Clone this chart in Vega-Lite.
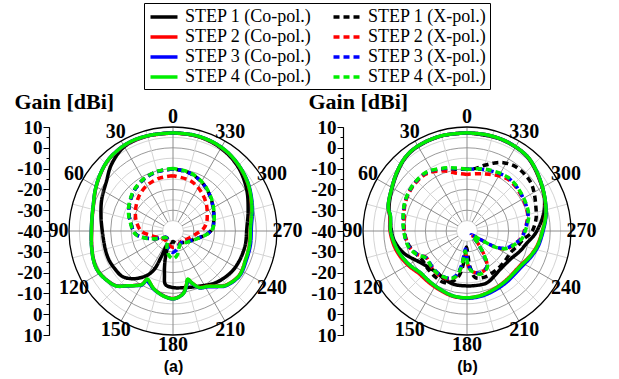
{
"$schema": "https://vega.github.io/schema/vega-lite/v6.json",
"padding": {"left": 14, "top": 2, "right": 5, "bottom": 5},
"bounds": "flush",
"spacing": 86,
"config": {"view": {"stroke": null}},
"datasets": {
"rings": [{"r":5},{"r":10},{"r":15},{"r":20},{"r":25},{"r":30},{"r":35},{"r":40},{"r":45}],
"spokes": [{"a":0},{"a":15},{"a":30},{"a":45},{"a":60},{"a":75},{"a":90},{"a":105},{"a":120},{"a":135},{"a":150},{"a":165},{"a":180},{"a":195},{"a":210},{"a":225},{"a":240},{"a":255},{"a":270},{"a":285},{"a":300},{"a":315},{"a":330},{"a":345}],
"curves": [
{"p":"a","s":"1C","a":0,"g":7.3},{"p":"a","s":"1C","a":15,"g":7.3},{"p":"a","s":"1C","a":30,"g":6.8},{"p":"a","s":"1C","a":43,"g":3.5},{"p":"a","s":"1C","a":53,"g":0},{"p":"a","s":"1C","a":66,"g":-2.5},{"p":"a","s":"1C","a":78,"g":-4.6},{"p":"a","s":"1C","a":90,"g":-6},{"p":"a","s":"1C","a":105,"g":-6.3},{"p":"a","s":"1C","a":114,"g":-6.2},{"p":"a","s":"1C","a":122,"g":-6.6},{"p":"a","s":"1C","a":132,"g":-7.3},{"p":"a","s":"1C","a":141,"g":-10.5},{"p":"a","s":"1C","a":150,"g":-15.5},{"p":"a","s":"1C","a":154,"g":-19.5},{"p":"a","s":"1C","a":155.5,"g":-26},{"p":"a","s":"1C","a":157,"g":-32},{"p":"a","s":"1C","a":161,"g":-31},{"p":"a","s":"1C","a":165,"g":-25},{"p":"a","s":"1C","a":169,"g":-18.5},{"p":"a","s":"1C","a":172,"g":-14},{"p":"a","s":"1C","a":180,"g":-12.8},{"p":"a","s":"1C","a":192,"g":-12.2},{"p":"a","s":"1C","a":205,"g":-10.7},{"p":"a","s":"1C","a":220,"g":-7.7},{"p":"a","s":"1C","a":235,"g":-5.7},{"p":"a","s":"1C","a":247,"g":-5},{"p":"a","s":"1C","a":260,"g":-4.6},{"p":"a","s":"1C","a":270,"g":-4.6},{"p":"a","s":"1C","a":285,"g":-2.6},{"p":"a","s":"1C","a":300,"g":0.8},{"p":"a","s":"1C","a":315,"g":4},{"p":"a","s":"1C","a":330,"g":6},{"p":"a","s":"1C","a":345,"g":7},{"p":"a","s":"1C","a":360,"g":7.3},
{"p":"a","s":"2C","a":0,"g":7.1},{"p":"a","s":"2C","a":15,"g":7.3},{"p":"a","s":"2C","a":28,"g":7.4},{"p":"a","s":"2C","a":42,"g":6.2},{"p":"a","s":"2C","a":52,"g":4.3},{"p":"a","s":"2C","a":62,"g":2.2},{"p":"a","s":"2C","a":72,"g":0.2},{"p":"a","s":"2C","a":80,"g":-0.6},{"p":"a","s":"2C","a":90,"g":-0.9},{"p":"a","s":"2C","a":100,"g":-0.3},{"p":"a","s":"2C","a":110,"g":0.6},{"p":"a","s":"2C","a":117,"g":0.9},{"p":"a","s":"2C","a":125,"g":-0.1},{"p":"a","s":"2C","a":134,"g":-2.1},{"p":"a","s":"2C","a":140,"g":-5.6},{"p":"a","s":"2C","a":146,"g":-8.5},{"p":"a","s":"2C","a":150,"g":-10.5},{"p":"a","s":"2C","a":152,"g":-13.6},{"p":"a","s":"2C","a":156,"g":-12.7},{"p":"a","s":"2C","a":161,"g":-10.9},{"p":"a","s":"2C","a":167,"g":-9.5},{"p":"a","s":"2C","a":173,"g":-8.3},{"p":"a","s":"2C","a":180,"g":-7.5},{"p":"a","s":"2C","a":186,"g":-8.5},{"p":"a","s":"2C","a":190,"g":-10},{"p":"a","s":"2C","a":194,"g":-13.4},{"p":"a","s":"2C","a":197,"g":-15.6},{"p":"a","s":"2C","a":200,"g":-13.4},{"p":"a","s":"2C","a":205,"g":-10.1},{"p":"a","s":"2C","a":212,"g":-8.7},{"p":"a","s":"2C","a":219,"g":-5.9},{"p":"a","s":"2C","a":224,"g":-3.7},{"p":"a","s":"2C","a":236,"g":-1.7},{"p":"a","s":"2C","a":249,"g":-2.5},{"p":"a","s":"2C","a":260,"g":-2.7},{"p":"a","s":"2C","a":274,"g":-2.6},{"p":"a","s":"2C","a":284,"g":-1},{"p":"a","s":"2C","a":292,"g":0.5},{"p":"a","s":"2C","a":303,"g":2.7},{"p":"a","s":"2C","a":315,"g":4.6},{"p":"a","s":"2C","a":326,"g":6},{"p":"a","s":"2C","a":337,"g":6.8},{"p":"a","s":"2C","a":348,"g":7.1},{"p":"a","s":"2C","a":360,"g":7.1},
{"p":"a","s":"3C","a":0,"g":7.2},{"p":"a","s":"3C","a":15,"g":7.4},{"p":"a","s":"3C","a":28,"g":7.5},{"p":"a","s":"3C","a":42,"g":6.3},{"p":"a","s":"3C","a":52,"g":4.4},{"p":"a","s":"3C","a":62,"g":2.3},{"p":"a","s":"3C","a":72,"g":0.3},{"p":"a","s":"3C","a":80,"g":-0.5},{"p":"a","s":"3C","a":90,"g":-0.8},{"p":"a","s":"3C","a":100,"g":-0.2},{"p":"a","s":"3C","a":110,"g":0.7},{"p":"a","s":"3C","a":117,"g":1},{"p":"a","s":"3C","a":125,"g":0},{"p":"a","s":"3C","a":134,"g":-2},{"p":"a","s":"3C","a":140,"g":-5.5},{"p":"a","s":"3C","a":146,"g":-8.4},{"p":"a","s":"3C","a":150,"g":-10},{"p":"a","s":"3C","a":152,"g":-12.8},{"p":"a","s":"3C","a":156,"g":-12.3},{"p":"a","s":"3C","a":161,"g":-10.7},{"p":"a","s":"3C","a":167,"g":-9.4},{"p":"a","s":"3C","a":173,"g":-8.2},{"p":"a","s":"3C","a":180,"g":-7.4},{"p":"a","s":"3C","a":186,"g":-8.4},{"p":"a","s":"3C","a":190,"g":-9.9},{"p":"a","s":"3C","a":194,"g":-12.9},{"p":"a","s":"3C","a":197,"g":-15.3},{"p":"a","s":"3C","a":200,"g":-13.2},{"p":"a","s":"3C","a":205,"g":-9.8},{"p":"a","s":"3C","a":212,"g":-8.4},{"p":"a","s":"3C","a":219,"g":-5.6},{"p":"a","s":"3C","a":224,"g":-3.4},{"p":"a","s":"3C","a":236,"g":-1.4},{"p":"a","s":"3C","a":249,"g":-2.1},{"p":"a","s":"3C","a":260,"g":-2.2},{"p":"a","s":"3C","a":274,"g":-2.2},{"p":"a","s":"3C","a":284,"g":-0.6},{"p":"a","s":"3C","a":292,"g":0.8},{"p":"a","s":"3C","a":303,"g":2.9},{"p":"a","s":"3C","a":315,"g":4.7},{"p":"a","s":"3C","a":326,"g":6.1},{"p":"a","s":"3C","a":337,"g":6.9},{"p":"a","s":"3C","a":348,"g":7.2},{"p":"a","s":"3C","a":360,"g":7.2},
{"p":"a","s":"4C","a":0,"g":7.2},{"p":"a","s":"4C","a":15,"g":7.4},{"p":"a","s":"4C","a":28,"g":7.5},{"p":"a","s":"4C","a":42,"g":6.3},{"p":"a","s":"4C","a":52,"g":4.4},{"p":"a","s":"4C","a":62,"g":2.3},{"p":"a","s":"4C","a":72,"g":0.3},{"p":"a","s":"4C","a":80,"g":-0.5},{"p":"a","s":"4C","a":90,"g":-0.8},{"p":"a","s":"4C","a":100,"g":-0.2},{"p":"a","s":"4C","a":110,"g":0.7},{"p":"a","s":"4C","a":117,"g":1},{"p":"a","s":"4C","a":125,"g":0},{"p":"a","s":"4C","a":134,"g":-2},{"p":"a","s":"4C","a":140,"g":-5.6},{"p":"a","s":"4C","a":146,"g":-8.4},{"p":"a","s":"4C","a":150,"g":-10.4},{"p":"a","s":"4C","a":152,"g":-13.8},{"p":"a","s":"4C","a":156,"g":-12.8},{"p":"a","s":"4C","a":161,"g":-10.9},{"p":"a","s":"4C","a":167,"g":-9.4},{"p":"a","s":"4C","a":173,"g":-8.2},{"p":"a","s":"4C","a":180,"g":-7.4},{"p":"a","s":"4C","a":186,"g":-8.4},{"p":"a","s":"4C","a":190,"g":-9.9},{"p":"a","s":"4C","a":194,"g":-13.3},{"p":"a","s":"4C","a":197,"g":-15.8},{"p":"a","s":"4C","a":200,"g":-13.4},{"p":"a","s":"4C","a":205,"g":-10},{"p":"a","s":"4C","a":212,"g":-8.6},{"p":"a","s":"4C","a":219,"g":-5.8},{"p":"a","s":"4C","a":224,"g":-3.6},{"p":"a","s":"4C","a":236,"g":-1.6},{"p":"a","s":"4C","a":249,"g":-2.5},{"p":"a","s":"4C","a":260,"g":-2.6},{"p":"a","s":"4C","a":274,"g":-2.6},{"p":"a","s":"4C","a":284,"g":-0.9},{"p":"a","s":"4C","a":292,"g":0.6},{"p":"a","s":"4C","a":303,"g":2.8},{"p":"a","s":"4C","a":315,"g":4.7},{"p":"a","s":"4C","a":326,"g":6.1},{"p":"a","s":"4C","a":337,"g":6.9},{"p":"a","s":"4C","a":348,"g":7.2},{"p":"a","s":"4C","a":360,"g":7.2},
{"p":"a","s":"1X","a":0,"g":-10.2},{"p":"a","s":"1X","a":15,"g":-10.5},{"p":"a","s":"1X","a":30,"g":-11.5},{"p":"a","s":"1X","a":45,"g":-13.2},{"p":"a","s":"1X","a":60,"g":-15.7},{"p":"a","s":"1X","a":70,"g":-17.5},{"p":"a","s":"1X","a":80,"g":-19.5},{"p":"a","s":"1X","a":90,"g":-21},{"p":"a","s":"1X","a":97,"g":-22.8},{"p":"a","s":"1X","a":105,"g":-26.8},{"p":"a","s":"1X","a":112,"g":-30.2},{"p":"a","s":"1X","a":120,"g":-33.2},{"p":"a","s":"1X","a":135,"g":-35.6},{"p":"a","s":"1X","a":150,"g":-35.2},{"p":"a","s":"1X","a":160,"g":-34.6},{"p":"a","s":"1X","a":170,"g":-34.2},{"p":"a","s":"1X","a":180,"g":-35},{"p":"a","s":"1X","a":190,"g":-34.2},{"p":"a","s":"1X","a":200,"g":-33.2},{"p":"a","s":"1X","a":213,"g":-33.2},{"p":"a","s":"1X","a":230,"g":-31.7},{"p":"a","s":"1X","a":245,"g":-29.7},{"p":"a","s":"1X","a":255,"g":-27.2},{"p":"a","s":"1X","a":267,"g":-22.8},{"p":"a","s":"1X","a":275,"g":-20.8},{"p":"a","s":"1X","a":285,"g":-19.7},{"p":"a","s":"1X","a":300,"g":-17.7},{"p":"a","s":"1X","a":315,"g":-15.2},{"p":"a","s":"1X","a":330,"g":-12.7},{"p":"a","s":"1X","a":345,"g":-10.9},{"p":"a","s":"1X","a":360,"g":-10.2},
{"p":"a","s":"2X","a":0,"g":-13.4},{"p":"a","s":"2X","a":15,"g":-13.8},{"p":"a","s":"2X","a":30,"g":-14.8},{"p":"a","s":"2X","a":45,"g":-16.7},{"p":"a","s":"2X","a":60,"g":-19.2},{"p":"a","s":"2X","a":66,"g":-20.2},{"p":"a","s":"2X","a":75,"g":-21.7},{"p":"a","s":"2X","a":90,"g":-24.7},{"p":"a","s":"2X","a":104,"g":-30},{"p":"a","s":"2X","a":120,"g":-33.2},{"p":"a","s":"2X","a":140,"g":-34.2},{"p":"a","s":"2X","a":160,"g":-33.2},{"p":"a","s":"2X","a":178,"g":-32.2},{"p":"a","s":"2X","a":200,"g":-32.7},{"p":"a","s":"2X","a":220,"g":-33.7},{"p":"a","s":"2X","a":240,"g":-32.2},{"p":"a","s":"2X","a":262,"g":-29},{"p":"a","s":"2X","a":275,"g":-25.2},{"p":"a","s":"2X","a":285,"g":-23.2},{"p":"a","s":"2X","a":296,"g":-21.7},{"p":"a","s":"2X","a":310,"g":-19.2},{"p":"a","s":"2X","a":325,"g":-16.7},{"p":"a","s":"2X","a":340,"g":-14.5},{"p":"a","s":"2X","a":360,"g":-13.4},
{"p":"a","s":"3X","a":0,"g":-10.2},{"p":"a","s":"3X","a":15,"g":-10.5},{"p":"a","s":"3X","a":30,"g":-11.5},{"p":"a","s":"3X","a":45,"g":-13.2},{"p":"a","s":"3X","a":60,"g":-15.7},{"p":"a","s":"3X","a":70,"g":-17.5},{"p":"a","s":"3X","a":80,"g":-19.5},{"p":"a","s":"3X","a":90,"g":-21},{"p":"a","s":"3X","a":97,"g":-22.8},{"p":"a","s":"3X","a":105,"g":-26.8},{"p":"a","s":"3X","a":112,"g":-30.2},{"p":"a","s":"3X","a":120,"g":-33.2},{"p":"a","s":"3X","a":135,"g":-35.6},{"p":"a","s":"3X","a":150,"g":-34.5},{"p":"a","s":"3X","a":160,"g":-32.2},{"p":"a","s":"3X","a":170,"g":-30.7},{"p":"a","s":"3X","a":180,"g":-29.7},{"p":"a","s":"3X","a":190,"g":-30.7},{"p":"a","s":"3X","a":200,"g":-32.2},{"p":"a","s":"3X","a":213,"g":-33.2},{"p":"a","s":"3X","a":230,"g":-31.7},{"p":"a","s":"3X","a":245,"g":-29.7},{"p":"a","s":"3X","a":255,"g":-27.2},{"p":"a","s":"3X","a":267,"g":-22.8},{"p":"a","s":"3X","a":275,"g":-20.8},{"p":"a","s":"3X","a":285,"g":-19.7},{"p":"a","s":"3X","a":300,"g":-17.7},{"p":"a","s":"3X","a":315,"g":-15.2},{"p":"a","s":"3X","a":330,"g":-12.7},{"p":"a","s":"3X","a":345,"g":-10.9},{"p":"a","s":"3X","a":360,"g":-10.2},
{"p":"a","s":"4X","a":0,"g":-10},{"p":"a","s":"4X","a":15,"g":-10.3},{"p":"a","s":"4X","a":30,"g":-11.3},{"p":"a","s":"4X","a":45,"g":-13},{"p":"a","s":"4X","a":60,"g":-15.5},{"p":"a","s":"4X","a":70,"g":-17.3},{"p":"a","s":"4X","a":80,"g":-19.3},{"p":"a","s":"4X","a":90,"g":-20.8},{"p":"a","s":"4X","a":97,"g":-22.6},{"p":"a","s":"4X","a":105,"g":-26.6},{"p":"a","s":"4X","a":112,"g":-30},{"p":"a","s":"4X","a":120,"g":-33},{"p":"a","s":"4X","a":135,"g":-35.4},{"p":"a","s":"4X","a":150,"g":-34.5},{"p":"a","s":"4X","a":160,"g":-31.5},{"p":"a","s":"4X","a":170,"g":-28.3},{"p":"a","s":"4X","a":180,"g":-26.7},{"p":"a","s":"4X","a":190,"g":-28.3},{"p":"a","s":"4X","a":200,"g":-31.5},{"p":"a","s":"4X","a":213,"g":-33},{"p":"a","s":"4X","a":230,"g":-31.5},{"p":"a","s":"4X","a":245,"g":-29.5},{"p":"a","s":"4X","a":255,"g":-27},{"p":"a","s":"4X","a":267,"g":-22.6},{"p":"a","s":"4X","a":275,"g":-20.6},{"p":"a","s":"4X","a":285,"g":-19.5},{"p":"a","s":"4X","a":300,"g":-17.5},{"p":"a","s":"4X","a":315,"g":-15},{"p":"a","s":"4X","a":330,"g":-12.5},{"p":"a","s":"4X","a":345,"g":-10.7},{"p":"a","s":"4X","a":360,"g":-10},
{"p":"b","s":"1C","a":0,"g":7.2},{"p":"b","s":"1C","a":15,"g":7.3},{"p":"b","s":"1C","a":30,"g":7},{"p":"b","s":"1C","a":40,"g":6},{"p":"b","s":"1C","a":50,"g":3.7},{"p":"b","s":"1C","a":60,"g":1.5},{"p":"b","s":"1C","a":73,"g":-0.8},{"p":"b","s":"1C","a":82,"g":-2.8},{"p":"b","s":"1C","a":90,"g":-3.7},{"p":"b","s":"1C","a":97,"g":-4.6},{"p":"b","s":"1C","a":109,"g":-7.7},{"p":"b","s":"1C","a":124,"g":-12.9},{"p":"b","s":"1C","a":144,"g":-15.3},{"p":"b","s":"1C","a":156,"g":-14.3},{"p":"b","s":"1C","a":166,"g":-13.6},{"p":"b","s":"1C","a":180,"g":-13.6},{"p":"b","s":"1C","a":192,"g":-13.4},{"p":"b","s":"1C","a":201,"g":-13.3},{"p":"b","s":"1C","a":212,"g":-14.8},{"p":"b","s":"1C","a":221,"g":-15.6},{"p":"b","s":"1C","a":237,"g":-15.1},{"p":"b","s":"1C","a":249,"g":-12.8},{"p":"b","s":"1C","a":259,"g":-10.5},{"p":"b","s":"1C","a":266,"g":-7.8},{"p":"b","s":"1C","a":272,"g":-5.8},{"p":"b","s":"1C","a":281,"g":-2.8},{"p":"b","s":"1C","a":292,"g":0.2},{"p":"b","s":"1C","a":303,"g":2.3},{"p":"b","s":"1C","a":321,"g":5.9},{"p":"b","s":"1C","a":340,"g":7},{"p":"b","s":"1C","a":360,"g":7.2},
{"p":"b","s":"2C","a":0,"g":7.2},{"p":"b","s":"2C","a":15,"g":7.4},{"p":"b","s":"2C","a":30,"g":7.2},{"p":"b","s":"2C","a":40,"g":6.2},{"p":"b","s":"2C","a":50,"g":4},{"p":"b","s":"2C","a":60,"g":1.7},{"p":"b","s":"2C","a":73,"g":-0.4},{"p":"b","s":"2C","a":79,"g":-2.2},{"p":"b","s":"2C","a":90,"g":-3},{"p":"b","s":"2C","a":105,"g":-4.7},{"p":"b","s":"2C","a":120,"g":-7.2},{"p":"b","s":"2C","a":132,"g":-9.2},{"p":"b","s":"2C","a":143,"g":-9.2},{"p":"b","s":"2C","a":156,"g":-8.7},{"p":"b","s":"2C","a":168,"g":-7.9},{"p":"b","s":"2C","a":180,"g":-7.8},{"p":"b","s":"2C","a":192,"g":-8.3},{"p":"b","s":"2C","a":205,"g":-9.2},{"p":"b","s":"2C","a":218,"g":-9.8},{"p":"b","s":"2C","a":237,"g":-9.5},{"p":"b","s":"2C","a":248,"g":-7.5},{"p":"b","s":"2C","a":258,"g":-5.6},{"p":"b","s":"2C","a":270,"g":-3.8},{"p":"b","s":"2C","a":281,"g":-1.5},{"p":"b","s":"2C","a":292,"g":0.4},{"p":"b","s":"2C","a":303,"g":2.4},{"p":"b","s":"2C","a":312,"g":4.3},{"p":"b","s":"2C","a":321,"g":6.1},{"p":"b","s":"2C","a":335,"g":7},{"p":"b","s":"2C","a":348,"g":7.2},{"p":"b","s":"2C","a":360,"g":7.2},
{"p":"b","s":"3C","a":0,"g":7.2},{"p":"b","s":"3C","a":15,"g":7.4},{"p":"b","s":"3C","a":30,"g":7.2},{"p":"b","s":"3C","a":40,"g":6.2},{"p":"b","s":"3C","a":50,"g":4},{"p":"b","s":"3C","a":60,"g":1.7},{"p":"b","s":"3C","a":73,"g":-0.4},{"p":"b","s":"3C","a":79,"g":-2.5},{"p":"b","s":"3C","a":90,"g":-3.3},{"p":"b","s":"3C","a":105,"g":-5.3},{"p":"b","s":"3C","a":120,"g":-7.8},{"p":"b","s":"3C","a":132,"g":-9.9},{"p":"b","s":"3C","a":143,"g":-9.8},{"p":"b","s":"3C","a":156,"g":-9.1},{"p":"b","s":"3C","a":168,"g":-8.1},{"p":"b","s":"3C","a":180,"g":-7.7},{"p":"b","s":"3C","a":192,"g":-7.9},{"p":"b","s":"3C","a":205,"g":-8.5},{"p":"b","s":"3C","a":218,"g":-8.9},{"p":"b","s":"3C","a":237,"g":-8.6},{"p":"b","s":"3C","a":248,"g":-6.8},{"p":"b","s":"3C","a":258,"g":-5},{"p":"b","s":"3C","a":270,"g":-3.4},{"p":"b","s":"3C","a":281,"g":-1.3},{"p":"b","s":"3C","a":292,"g":0.5},{"p":"b","s":"3C","a":303,"g":2.5},{"p":"b","s":"3C","a":312,"g":4.4},{"p":"b","s":"3C","a":321,"g":6.1},{"p":"b","s":"3C","a":335,"g":7},{"p":"b","s":"3C","a":348,"g":7.2},{"p":"b","s":"3C","a":360,"g":7.2},
{"p":"b","s":"4C","a":0,"g":7.2},{"p":"b","s":"4C","a":15,"g":7.4},{"p":"b","s":"4C","a":30,"g":7.2},{"p":"b","s":"4C","a":40,"g":6.2},{"p":"b","s":"4C","a":50,"g":4},{"p":"b","s":"4C","a":60,"g":1.7},{"p":"b","s":"4C","a":73,"g":-0.4},{"p":"b","s":"4C","a":79,"g":-2.5},{"p":"b","s":"4C","a":90,"g":-3.3},{"p":"b","s":"4C","a":105,"g":-5.3},{"p":"b","s":"4C","a":120,"g":-7.8},{"p":"b","s":"4C","a":132,"g":-9.9},{"p":"b","s":"4C","a":143,"g":-9.8},{"p":"b","s":"4C","a":156,"g":-9.1},{"p":"b","s":"4C","a":168,"g":-8.1},{"p":"b","s":"4C","a":180,"g":-7.9},{"p":"b","s":"4C","a":192,"g":-8.3},{"p":"b","s":"4C","a":205,"g":-9.1},{"p":"b","s":"4C","a":218,"g":-9.6},{"p":"b","s":"4C","a":237,"g":-9.2},{"p":"b","s":"4C","a":248,"g":-7.3},{"p":"b","s":"4C","a":258,"g":-5.4},{"p":"b","s":"4C","a":270,"g":-3.7},{"p":"b","s":"4C","a":281,"g":-1.4},{"p":"b","s":"4C","a":292,"g":0.5},{"p":"b","s":"4C","a":303,"g":2.5},{"p":"b","s":"4C","a":312,"g":4.4},{"p":"b","s":"4C","a":321,"g":6.1},{"p":"b","s":"4C","a":335,"g":7},{"p":"b","s":"4C","a":348,"g":7.2},{"p":"b","s":"4C","a":360,"g":7.2},
{"p":"b","s":"1X","a":0,"g":-10.3},{"p":"b","s":"1X","a":10,"g":-9.8},{"p":"b","s":"1X","a":20,"g":-8.3},{"p":"b","s":"1X","a":35,"g":-6},{"p":"b","s":"1X","a":50,"g":-6},{"p":"b","s":"1X","a":65,"g":-7.2},{"p":"b","s":"1X","a":80,"g":-9},{"p":"b","s":"1X","a":90,"g":-9.8},{"p":"b","s":"1X","a":100,"g":-10.6},{"p":"b","s":"1X","a":110,"g":-12.3},{"p":"b","s":"1X","a":122,"g":-14.3},{"p":"b","s":"1X","a":135,"g":-13.8},{"p":"b","s":"1X","a":147,"g":-13.1},{"p":"b","s":"1X","a":156,"g":-12.9},{"p":"b","s":"1X","a":164,"g":-14.8},{"p":"b","s":"1X","a":170,"g":-18.3},{"p":"b","s":"1X","a":175,"g":-26.3},{"p":"b","s":"1X","a":178,"g":-32.3},{"p":"b","s":"1X","a":181,"g":-30.3},{"p":"b","s":"1X","a":185,"g":-22.3},{"p":"b","s":"1X","a":190,"g":-17.3},{"p":"b","s":"1X","a":200,"g":-16.3},{"p":"b","s":"1X","a":212,"g":-16.5},{"p":"b","s":"1X","a":224,"g":-16.7},{"p":"b","s":"1X","a":235,"g":-16.8},{"p":"b","s":"1X","a":244,"g":-16.6},{"p":"b","s":"1X","a":255,"g":-14.3},{"p":"b","s":"1X","a":262,"g":-12.6},{"p":"b","s":"1X","a":266,"g":-10.3},{"p":"b","s":"1X","a":270,"g":-8.6},{"p":"b","s":"1X","a":280,"g":-6.3},{"p":"b","s":"1X","a":290,"g":-4.8},{"p":"b","s":"1X","a":300,"g":-2.8},{"p":"b","s":"1X","a":307,"g":-1.5},{"p":"b","s":"1X","a":315,"g":-1.1},{"p":"b","s":"1X","a":324,"g":-1.3},{"p":"b","s":"1X","a":332,"g":-2.8},{"p":"b","s":"1X","a":338,"g":-4.7},{"p":"b","s":"1X","a":345,"g":-7.3},{"p":"b","s":"1X","a":352,"g":-9.6},{"p":"b","s":"1X","a":360,"g":-10.3},
{"p":"b","s":"2X","a":0,"g":-12.8},{"p":"b","s":"2X","a":10,"g":-11.8},{"p":"b","s":"2X","a":20,"g":-9.3},{"p":"b","s":"2X","a":35,"g":-6.3},{"p":"b","s":"2X","a":50,"g":-6.3},{"p":"b","s":"2X","a":65,"g":-7.3},{"p":"b","s":"2X","a":80,"g":-9.3},{"p":"b","s":"2X","a":90,"g":-9.9},{"p":"b","s":"2X","a":100,"g":-10.7},{"p":"b","s":"2X","a":106,"g":-11.3},{"p":"b","s":"2X","a":115,"g":-13.6},{"p":"b","s":"2X","a":123,"g":-16.6},{"p":"b","s":"2X","a":135,"g":-15.8},{"p":"b","s":"2X","a":147,"g":-14.8},{"p":"b","s":"2X","a":160,"g":-15.5},{"p":"b","s":"2X","a":166,"g":-17.3},{"p":"b","s":"2X","a":171,"g":-22.3},{"p":"b","s":"2X","a":175,"g":-29.3},{"p":"b","s":"2X","a":178,"g":-28.3},{"p":"b","s":"2X","a":182,"g":-23.3},{"p":"b","s":"2X","a":186,"g":-20.8},{"p":"b","s":"2X","a":197,"g":-18.8},{"p":"b","s":"2X","a":209,"g":-20.3},{"p":"b","s":"2X","a":215,"g":-25.3},{"p":"b","s":"2X","a":222,"g":-32.3},{"p":"b","s":"2X","a":230,"g":-36.3},{"p":"b","s":"2X","a":237,"g":-33.3},{"p":"b","s":"2X","a":240,"g":-25.3},{"p":"b","s":"2X","a":243,"g":-21.3},{"p":"b","s":"2X","a":248,"g":-18.3},{"p":"b","s":"2X","a":255,"g":-16.3},{"p":"b","s":"2X","a":262,"g":-13.8},{"p":"b","s":"2X","a":270,"g":-12.5},{"p":"b","s":"2X","a":285,"g":-9.8},{"p":"b","s":"2X","a":304,"g":-8.8},{"p":"b","s":"2X","a":322,"g":-8.3},{"p":"b","s":"2X","a":343,"g":-11.3},{"p":"b","s":"2X","a":360,"g":-12.8},
{"p":"b","s":"3X","a":0,"g":-10.3},{"p":"b","s":"3X","a":10,"g":-9.5},{"p":"b","s":"3X","a":20,"g":-8},{"p":"b","s":"3X","a":35,"g":-5.8},{"p":"b","s":"3X","a":50,"g":-6},{"p":"b","s":"3X","a":65,"g":-7.1},{"p":"b","s":"3X","a":80,"g":-8.9},{"p":"b","s":"3X","a":90,"g":-9.7},{"p":"b","s":"3X","a":100,"g":-10.5},{"p":"b","s":"3X","a":106,"g":-11.3},{"p":"b","s":"3X","a":115,"g":-13.6},{"p":"b","s":"3X","a":123,"g":-16.5},{"p":"b","s":"3X","a":135,"g":-16.1},{"p":"b","s":"3X","a":147,"g":-15.3},{"p":"b","s":"3X","a":160,"g":-15.8},{"p":"b","s":"3X","a":166,"g":-17.8},{"p":"b","s":"3X","a":171,"g":-23.3},{"p":"b","s":"3X","a":175,"g":-31.3},{"p":"b","s":"3X","a":178,"g":-29.3},{"p":"b","s":"3X","a":182,"g":-24.3},{"p":"b","s":"3X","a":186,"g":-21.3},{"p":"b","s":"3X","a":197,"g":-18.8},{"p":"b","s":"3X","a":209,"g":-20.3},{"p":"b","s":"3X","a":215,"g":-25.8},{"p":"b","s":"3X","a":222,"g":-32.8},{"p":"b","s":"3X","a":230,"g":-37.3},{"p":"b","s":"3X","a":237,"g":-33.8},{"p":"b","s":"3X","a":240,"g":-25.8},{"p":"b","s":"3X","a":243,"g":-21.8},{"p":"b","s":"3X","a":248,"g":-18.8},{"p":"b","s":"3X","a":255,"g":-16.3},{"p":"b","s":"3X","a":262,"g":-13.6},{"p":"b","s":"3X","a":270,"g":-12.3},{"p":"b","s":"3X","a":285,"g":-9.6},{"p":"b","s":"3X","a":304,"g":-8.5},{"p":"b","s":"3X","a":322,"g":-7.7},{"p":"b","s":"3X","a":343,"g":-9.2},{"p":"b","s":"3X","a":360,"g":-10.3},
{"p":"b","s":"4X","a":0,"g":-10.3},{"p":"b","s":"4X","a":10,"g":-9.3},{"p":"b","s":"4X","a":20,"g":-7.8},{"p":"b","s":"4X","a":35,"g":-5.6},{"p":"b","s":"4X","a":50,"g":-5.9},{"p":"b","s":"4X","a":65,"g":-7},{"p":"b","s":"4X","a":80,"g":-8.8},{"p":"b","s":"4X","a":90,"g":-9.6},{"p":"b","s":"4X","a":100,"g":-10.3},{"p":"b","s":"4X","a":106,"g":-11},{"p":"b","s":"4X","a":115,"g":-13.3},{"p":"b","s":"4X","a":123,"g":-16.3},{"p":"b","s":"4X","a":135,"g":-15.8},{"p":"b","s":"4X","a":147,"g":-15.1},{"p":"b","s":"4X","a":160,"g":-15.8},{"p":"b","s":"4X","a":166,"g":-17.3},{"p":"b","s":"4X","a":171,"g":-22.3},{"p":"b","s":"4X","a":175,"g":-30.3},{"p":"b","s":"4X","a":178,"g":-28.3},{"p":"b","s":"4X","a":182,"g":-23.3},{"p":"b","s":"4X","a":186,"g":-20.8},{"p":"b","s":"4X","a":197,"g":-18.3},{"p":"b","s":"4X","a":209,"g":-19.9},{"p":"b","s":"4X","a":215,"g":-25.3},{"p":"b","s":"4X","a":222,"g":-32.3},{"p":"b","s":"4X","a":230,"g":-36.3},{"p":"b","s":"4X","a":237,"g":-33.3},{"p":"b","s":"4X","a":240,"g":-25.3},{"p":"b","s":"4X","a":243,"g":-21.3},{"p":"b","s":"4X","a":248,"g":-18.3},{"p":"b","s":"4X","a":255,"g":-15.9},{"p":"b","s":"4X","a":262,"g":-13.3},{"p":"b","s":"4X","a":270,"g":-12},{"p":"b","s":"4X","a":285,"g":-9.3},{"p":"b","s":"4X","a":304,"g":-8.3},{"p":"b","s":"4X","a":322,"g":-7.5},{"p":"b","s":"4X","a":343,"g":-9},{"p":"b","s":"4X","a":360,"g":-10.3}
]
},
"hconcat": [
{
"width": 208, "height": 208,
"resolve": {"axis": {"x": "independent", "y": "independent"}},
"layer": [
{"data": {"name": "rings"}, "mark": {"type": "point", "shape": "circle", "filled": false, "strokeWidth": 1, "opacity": 1},
 "encoding": {
  "x": {"datum": 0, "type": "quantitative", "scale": {"domain": [-50, 50], "nice": false}, "axis": null},
  "y": {"datum": 0, "type": "quantitative", "scale": {"domain": [-50, 50], "nice": false}, "axis": null},
  "size": {"field": "r", "type": "quantitative", "scale": {"type": "pow", "exponent": 2, "domain": [0, 50], "range": [0, 43264], "zero": true}, "legend": null},
  "stroke": {"condition": {"test": "datum.r % 10 == 0", "value": "#9a9a9a"}, "value": "#d4d4d4"}}},
{"data": {"name": "spokes"},
 "transform": [{"calculate": "-5*sin(datum.a*PI/180)", "as": "x1"}, {"calculate": "5*cos(datum.a*PI/180)", "as": "y1"}, {"calculate": "-50*sin(datum.a*PI/180)", "as": "x2"}, {"calculate": "50*cos(datum.a*PI/180)", "as": "y2"}],
 "mark": {"type": "rule", "strokeWidth": 1},
 "encoding": {
  "x": {"field": "x1", "type": "quantitative", "scale": {"domain": [-50, 50], "nice": false}, "axis": null},
  "y": {"field": "y1", "type": "quantitative", "scale": {"domain": [-50, 50], "nice": false},
   "axis": {"orient": "left", "offset": 20, "values": [-45, -35, -25, -15, -5, 5, 15, 25, 35, 45], "labels": false, "tickSize": 3, "tickColor": "black", "domainColor": "black", "grid": false, "title": null}},
  "x2": {"field": "x2"}, "y2": {"field": "y2"},
  "stroke": {"condition": {"test": "datum.a % 30 == 0", "value": "#8c8c8c"}, "value": "#d4d4d4"}}},
{"data": {"values": [{"r": 50}]}, "mark": {"type": "point", "shape": "circle", "filled": false, "strokeWidth": 1.3, "stroke": "black", "opacity": 1},
 "encoding": {
  "x": {"datum": 0, "type": "quantitative", "scale": {"domain": [-50, 50], "nice": false}, "axis": null},
  "y": {"datum": 0, "type": "quantitative", "scale": {"domain": [-50, 50], "nice": false}, "axis": null},
  "size": {"field": "r", "type": "quantitative", "scale": {"type": "pow", "exponent": 2, "domain": [0, 50], "range": [0, 43264], "zero": true}, "legend": null}}},
{"data": {"name": "spokes"},
 "transform": [{"filter": "datum.a % 30 == 0"}, {"calculate": "-55*sin(datum.a*PI/180)", "as": "lx"}, {"calculate": "55*cos(datum.a*PI/180)", "as": "ly"}],
 "mark": {"type": "text", "font": "Liberation Serif", "fontSize": 20, "fontWeight": "bold", "color": "black", "baseline": "middle", "align": "center"},
 "encoding": {
  "x": {"field": "lx", "type": "quantitative", "scale": {"domain": [-50, 50], "nice": false}, "axis": null},
  "y": {"field": "ly", "type": "quantitative", "scale": {"domain": [-50, 50], "nice": false}, "axis": null},
  "text": {"field": "a", "type": "quantitative"}}},
{"data": {"name": "curves"},
 "transform": [{"filter": "datum.p == 'a'"}, {"calculate": "-(datum.g+40)*sin(datum.a*PI/180)", "as": "x"}, {"calculate": "(datum.g+40)*cos(datum.a*PI/180)", "as": "y"}],
 "mark": {"type": "line", "strokeWidth": 3.5, "interpolate": "catmull-rom"},
 "encoding": {
  "x": {"field": "x", "type": "quantitative", "scale": {"domain": [-50, 50], "nice": false},
   "axis": {"title": "(a)", "labels": false, "ticks": false, "domain": false, "grid": false, "titlePadding": 23, "titleFont": "Liberation Sans", "titleFontSize": 16, "titleFontWeight": "bold", "titleColor": "black"}},
  "y": {"field": "y", "type": "quantitative", "scale": {"domain": [-50, 50], "nice": false},
   "axis": {"orient": "left", "offset": 20, "values": [-50, -40, -30, -20, -10, 0, 10, 20, 30, 40, 50], "labelExpr": "abs(datum.value) - 40", "grid": false, "tickSize": 6, "tickColor": "black", "domainColor": "black", "domainWidth": 1.2, "labelFont": "Liberation Serif", "labelFontSize": 19, "labelFontWeight": "bold", "labelColor": "black", "labelPadding": 1, "labelOverlap": false,
    "title": "Gain [dBi]", "titleAngle": 0, "titleAlign": "left", "titleBaseline": "alphabetic", "titleX": -35, "titleY": -19, "titleFont": "Liberation Serif", "titleFontSize": 22, "titleFontWeight": "bold", "titleColor": "black"}},
  "order": {"field": "a", "type": "quantitative"},
  "color": {"field": "s", "type": "nominal", "scale": {"domain": ["1C", "2C", "3C", "4C", "1X", "2X", "3X", "4X"], "range": ["#000000", "#ff0000", "#0000ff", "#00ee00", "#000000", "#ff0000", "#0000ff", "#00ee00"]},
   "legend": {"orient": "none", "legendX": 75, "legendY": -124, "columns": 2, "direction": "vertical", "title": null, "labelExpr": "'STEP ' + substring(datum.label, 0, 1) + (substring(datum.label, 1, 2) == 'C' ? ' (Co-pol.)' : ' (X-pol.)')", "symbolType": "M-1.5,0H1.5", "symbolSize": 324, "symbolOffset": 6, "symbolStrokeWidth": 3.5, "labelFont": "Liberation Serif", "labelFontSize": 18, "labelColor": "black", "strokeColor": "black", "fillColor": "white", "padding": 3, "rowPadding": 0, "columnPadding": 14, "labelOffset": 10}},
  "strokeDash": {"field": "s", "type": "nominal", "scale": {"domain": ["1C", "2C", "3C", "4C", "1X", "2X", "3X", "4X"], "range": [[1, 0], [1, 0], [1, 0], [1, 0], [6, 4], [6, 4], [6, 4], [6, 4]]},
   "legend": {"orient": "none", "legendX": 75, "legendY": -124, "columns": 2, "direction": "vertical", "title": null, "labelExpr": "'STEP ' + substring(datum.label, 0, 1) + (substring(datum.label, 1, 2) == 'C' ? ' (Co-pol.)' : ' (X-pol.)')", "symbolType": "M-1.5,0H1.5", "symbolSize": 324, "symbolOffset": 6, "symbolStrokeWidth": 3.5, "labelFont": "Liberation Serif", "labelFontSize": 18, "labelColor": "black", "strokeColor": "black", "fillColor": "white", "padding": 3, "rowPadding": 0, "columnPadding": 14, "labelOffset": 10}}}}
]
},
{
"width": 208, "height": 208,
"resolve": {"axis": {"x": "independent", "y": "independent"}},
"layer": [
{"data": {"name": "rings"}, "mark": {"type": "point", "shape": "circle", "filled": false, "strokeWidth": 1, "opacity": 1},
 "encoding": {
  "x": {"datum": 0, "type": "quantitative", "scale": {"domain": [-50, 50], "nice": false}, "axis": null},
  "y": {"datum": 0, "type": "quantitative", "scale": {"domain": [-50, 50], "nice": false}, "axis": null},
  "size": {"field": "r", "type": "quantitative", "scale": {"type": "pow", "exponent": 2, "domain": [0, 50], "range": [0, 43264], "zero": true}, "legend": null},
  "stroke": {"condition": {"test": "datum.r % 10 == 0", "value": "#9a9a9a"}, "value": "#d4d4d4"}}},
{"data": {"name": "spokes"},
 "transform": [{"calculate": "-5*sin(datum.a*PI/180)", "as": "x1"}, {"calculate": "5*cos(datum.a*PI/180)", "as": "y1"}, {"calculate": "-50*sin(datum.a*PI/180)", "as": "x2"}, {"calculate": "50*cos(datum.a*PI/180)", "as": "y2"}],
 "mark": {"type": "rule", "strokeWidth": 1},
 "encoding": {
  "x": {"field": "x1", "type": "quantitative", "scale": {"domain": [-50, 50], "nice": false}, "axis": null},
  "y": {"field": "y1", "type": "quantitative", "scale": {"domain": [-50, 50], "nice": false},
   "axis": {"orient": "left", "offset": 20, "values": [-45, -35, -25, -15, -5, 5, 15, 25, 35, 45], "labels": false, "tickSize": 3, "tickColor": "black", "domainColor": "black", "grid": false, "title": null}},
  "x2": {"field": "x2"}, "y2": {"field": "y2"},
  "stroke": {"condition": {"test": "datum.a % 30 == 0", "value": "#8c8c8c"}, "value": "#d4d4d4"}}},
{"data": {"values": [{"r": 50}]}, "mark": {"type": "point", "shape": "circle", "filled": false, "strokeWidth": 1.3, "stroke": "black", "opacity": 1},
 "encoding": {
  "x": {"datum": 0, "type": "quantitative", "scale": {"domain": [-50, 50], "nice": false}, "axis": null},
  "y": {"datum": 0, "type": "quantitative", "scale": {"domain": [-50, 50], "nice": false}, "axis": null},
  "size": {"field": "r", "type": "quantitative", "scale": {"type": "pow", "exponent": 2, "domain": [0, 50], "range": [0, 43264], "zero": true}, "legend": null}}},
{"data": {"name": "spokes"},
 "transform": [{"filter": "datum.a % 30 == 0"}, {"calculate": "-55*sin(datum.a*PI/180)", "as": "lx"}, {"calculate": "55*cos(datum.a*PI/180)", "as": "ly"}],
 "mark": {"type": "text", "font": "Liberation Serif", "fontSize": 20, "fontWeight": "bold", "color": "black", "baseline": "middle", "align": "center"},
 "encoding": {
  "x": {"field": "lx", "type": "quantitative", "scale": {"domain": [-50, 50], "nice": false}, "axis": null},
  "y": {"field": "ly", "type": "quantitative", "scale": {"domain": [-50, 50], "nice": false}, "axis": null},
  "text": {"field": "a", "type": "quantitative"}}},
{"data": {"name": "curves"},
 "transform": [{"filter": "datum.p == 'b'"}, {"calculate": "-(datum.g+40)*sin(datum.a*PI/180)", "as": "x"}, {"calculate": "(datum.g+40)*cos(datum.a*PI/180)", "as": "y"}],
 "mark": {"type": "line", "strokeWidth": 3.5, "interpolate": "catmull-rom"},
 "encoding": {
  "x": {"field": "x", "type": "quantitative", "scale": {"domain": [-50, 50], "nice": false},
   "axis": {"title": "(b)", "labels": false, "ticks": false, "domain": false, "grid": false, "titlePadding": 23, "titleFont": "Liberation Sans", "titleFontSize": 16, "titleFontWeight": "bold", "titleColor": "black"}},
  "y": {"field": "y", "type": "quantitative", "scale": {"domain": [-50, 50], "nice": false},
   "axis": {"orient": "left", "offset": 20, "values": [-50, -40, -30, -20, -10, 0, 10, 20, 30, 40, 50], "labelExpr": "abs(datum.value) - 40", "grid": false, "tickSize": 6, "tickColor": "black", "domainColor": "black", "domainWidth": 1.2, "labelFont": "Liberation Serif", "labelFontSize": 19, "labelFontWeight": "bold", "labelColor": "black", "labelPadding": 1, "labelOverlap": false,
    "title": "Gain [dBi]", "titleAngle": 0, "titleAlign": "left", "titleBaseline": "alphabetic", "titleX": -35, "titleY": -19, "titleFont": "Liberation Serif", "titleFontSize": 22, "titleFontWeight": "bold", "titleColor": "black"}},
  "order": {"field": "a", "type": "quantitative"},
  "color": {"field": "s", "type": "nominal", "scale": {"domain": ["1C", "2C", "3C", "4C", "1X", "2X", "3X", "4X"], "range": ["#000000", "#ff0000", "#0000ff", "#00ee00", "#000000", "#ff0000", "#0000ff", "#00ee00"]},
   "legend": {"orient": "none", "legendX": 75, "legendY": -124, "columns": 2, "direction": "vertical", "title": null, "labelExpr": "'STEP ' + substring(datum.label, 0, 1) + (substring(datum.label, 1, 2) == 'C' ? ' (Co-pol.)' : ' (X-pol.)')", "symbolType": "M-1.5,0H1.5", "symbolSize": 324, "symbolOffset": 6, "symbolStrokeWidth": 3.5, "labelFont": "Liberation Serif", "labelFontSize": 18, "labelColor": "black", "strokeColor": "black", "fillColor": "white", "padding": 3, "rowPadding": 0, "columnPadding": 14, "labelOffset": 10}},
  "strokeDash": {"field": "s", "type": "nominal", "scale": {"domain": ["1C", "2C", "3C", "4C", "1X", "2X", "3X", "4X"], "range": [[1, 0], [1, 0], [1, 0], [1, 0], [6, 4], [6, 4], [6, 4], [6, 4]]},
   "legend": {"orient": "none", "legendX": 75, "legendY": -124, "columns": 2, "direction": "vertical", "title": null, "labelExpr": "'STEP ' + substring(datum.label, 0, 1) + (substring(datum.label, 1, 2) == 'C' ? ' (Co-pol.)' : ' (X-pol.)')", "symbolType": "M-1.5,0H1.5", "symbolSize": 324, "symbolOffset": 6, "symbolStrokeWidth": 3.5, "labelFont": "Liberation Serif", "labelFontSize": 18, "labelColor": "black", "strokeColor": "black", "fillColor": "white", "padding": 3, "rowPadding": 0, "columnPadding": 14, "labelOffset": 10}}}}
]
}
]
}
